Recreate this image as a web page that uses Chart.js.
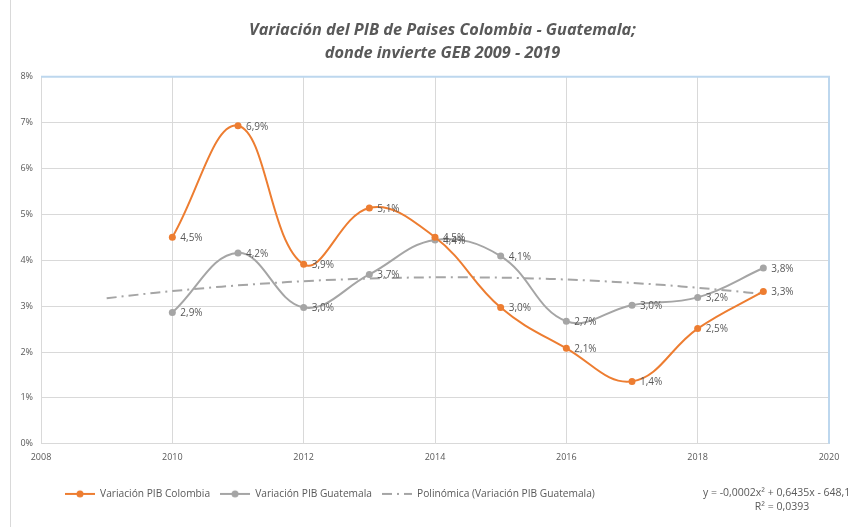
<!DOCTYPE html>
<html>
<head>
<meta charset="utf-8">
<script src="https://cdn.jsdelivr.net/npm/chart.js@4.4.0/dist/chart.umd.min.js"></script>
<style>
  html, body { margin: 0; padding: 0; background: #fff; }
  #wrap { position: relative; width: 857px; height: 527px; }
  #wrap:before { content: ""; position: absolute; left: 10px; top: 0; bottom: 0; border-left: 1px solid #d9d9d9; }
</style>
</head>
<body>
<div id="wrap"><canvas id="chart" width="857" height="527"></canvas></div>
<script>
// data
const years = [2010, 2011, 2012, 2013, 2014, 2015, 2016, 2017, 2018, 2019];
const colombia = [4.50, 6.93, 3.91, 5.14, 4.50, 2.97, 2.08, 1.36, 2.51, 3.32];
const guatemala = [2.86, 4.16, 2.97, 3.69, 4.44, 4.09, 2.67, 3.02, 3.19, 3.83];
const xRange = [2008, 2020];
const yRange = [0, 8];
const trendRange = [2009, 2019];

const titleLines = ["Variación del PIB de Paises Colombia - Guatemala;", "donde invierte GEB 2009 - 2019"];
const seriesNames = ["Variación PIB Colombia", "Variación PIB Guatemala", "Polinómica (Variación PIB Guatemala)"];
const trendText = ["y = -0,0002x² + 0,6435x - 648,1", "R² = 0,0393"];

const ORANGE = "#ED7D31";
const GRAY = "#A5A5A5";
const TEXT = "#595959";
const FONT = "'Open Sans', 'Noto Sans', sans-serif";

// least squares quadratic trendline of Guatemala (like Excel's polinómica)
function quadFit(xs, ys) {
  const x0 = 2014;
  let s = [0, 0, 0, 0, 0], t = [0, 0, 0];
  xs.forEach((x, i) => {
    const u = x - x0;
    for (let k = 0; k < 5; k++) s[k] += Math.pow(u, k);
    for (let k = 0; k < 3; k++) t[k] += ys[i] * Math.pow(u, k);
  });
  const M = [[s[0], s[1], s[2], t[0]], [s[1], s[2], s[3], t[1]], [s[2], s[3], s[4], t[2]]];
  for (let i = 0; i < 3; i++) {
    for (let j = i + 1; j < 3; j++) {
      const f = M[j][i] / M[i][i];
      for (let k = i; k < 4; k++) M[j][k] -= f * M[i][k];
    }
  }
  const c = [0, 0, 0];
  for (let i = 2; i >= 0; i--) {
    let v = M[i][3];
    for (let k = i + 1; k < 3; k++) v -= M[i][k] * c[k];
    c[i] = v / M[i][i];
  }
  return x => c[0] + c[1] * (x - x0) + c[2] * (x - x0) * (x - x0);
}

const trend = quadFit(years, guatemala);
const trendPts = [];
for (let x = trendRange[0]; x <= trendRange[1] + 1e-9; x += 0.25) trendPts.push({ x: x, y: trend(x) });

const toPts = arr => arr.map((v, i) => ({ x: years[i], y: v }));
const pctLabel = v => v.toFixed(1).replace(".", ",") + "%";

// little legend symbols
function legendIcon(color, dash, dot) {
  const c = document.createElement("canvas");
  c.width = 30; c.height = 10;
  const g = c.getContext("2d");
  g.strokeStyle = color; g.lineWidth = 2;
  if (dash) g.setLineDash(dash);
  g.beginPath(); g.moveTo(0, 5); g.lineTo(30, 5); g.stroke();
  if (dot) {
    g.fillStyle = color;
    g.beginPath(); g.arc(15, 5, 3.5, 0, Math.PI * 2); g.fill();
  }
  return c;
}
const icons = [legendIcon(ORANGE, null, true), legendIcon(GRAY, null, true), legendIcon(GRAY, [10, 5, 2, 5], false)];

// value labels to the right of points
const pointLabels = {
  id: "pointLabels",
  afterDatasetsDraw(chart) {
    const ctx = chart.ctx;
    ctx.save();
    ctx.font = "10px " + FONT;
    ctx.fillStyle = TEXT;
    ctx.textBaseline = "middle";
    chart.data.datasets.forEach((ds, i) => {
      if (!ds.showLabels) return;
      chart.getDatasetMeta(i).data.forEach((el, j) => {
        ctx.fillText(pctLabel(ds.data[j].y), el.x + 8, el.y + 1);
      });
    });
    ctx.restore();
  }
};

// blue plot-area border on top and right + trend equation; nudge title/legend
const extras = {
  id: "extras",
  afterLayout(chart) {
    chart.titleBlock.left += 23; chart.titleBlock.right += 23;
    chart.legend.left += 14; chart.legend.right += 14;
  },
  beforeDatasetsDraw(chart) {
    const a = chart.chartArea, ctx = chart.ctx;
    ctx.save();
    ctx.strokeStyle = "#BDD7EE";
    ctx.lineWidth = 2;
    ctx.beginPath();
    ctx.moveTo(a.left, a.top);
    ctx.lineTo(a.right, a.top);
    ctx.lineTo(a.right, a.bottom);
    ctx.stroke();
    ctx.restore();
  },
  afterDraw(chart) {
    const ctx = chart.ctx;
    ctx.save();
    ctx.font = "10.5px " + FONT;
    ctx.fillStyle = TEXT;
    ctx.textBaseline = "middle";
    ctx.textAlign = "left";
    ctx.fillText(trendText[0], 703, 493);
    ctx.textAlign = "center";
    ctx.fillText(trendText[1], 782, 507);
    ctx.restore();
  }
};

new Chart(document.getElementById("chart"), {
  type: "line",
  data: {
    datasets: [
      {
        label: seriesNames[0], data: toPts(colombia), showLabels: true,
        borderColor: ORANGE, backgroundColor: ORANGE, borderWidth: 2,
        pointRadius: 3.5, pointBackgroundColor: ORANGE, pointBorderWidth: 0,
        tension: 0.4
      },
      {
        label: seriesNames[1], data: toPts(guatemala), showLabels: true,
        borderColor: GRAY, backgroundColor: GRAY, borderWidth: 2,
        pointRadius: 3.5, pointBackgroundColor: GRAY, pointBorderWidth: 0,
        tension: 0.4
      },
      {
        label: seriesNames[2], data: trendPts,
        borderColor: GRAY, borderWidth: 2, borderDash: [10, 5, 2, 5],
        pointRadius: 0, tension: 0
      }
    ]
  },
  options: {
    responsive: false,
    animation: false,
    layout: { padding: { left: 10, right: 28, top: 8, bottom: 18 } },
    scales: {
      x: {
        type: "linear", min: xRange[0], max: xRange[1],
        ticks: { stepSize: 2, color: TEXT, font: { family: FONT, size: 9 }, padding: 8, callback: v => String(v) },
        grid: { color: "#d9d9d9", drawTicks: false },
        border: { color: "#d9d9d9" },
        afterFit: s => { s.height = 35; }
      },
      y: {
        min: yRange[0], max: yRange[1],
        ticks: { stepSize: 1, color: TEXT, font: { family: FONT, size: 9 }, padding: 8, callback: v => v + "%" },
        grid: { color: "#d9d9d9", drawTicks: false },
        border: { color: "#d9d9d9" },
        afterFit: s => { s.width = 31; }
      }
    },
    plugins: {
      title: {
        display: true, text: titleLines, color: TEXT,
        font: { family: FONT, size: 16.3, style: "italic", weight: "bold", lineHeight: 1.4 },
        padding: { top: 11, bottom: 12 }
      },
      legend: {
        position: "bottom", align: "start", fullSize: false,
        labels: {
          usePointStyle: true, pointStyleWidth: 30, padding: 10,
          color: TEXT, font: { family: FONT, size: 10.2 },
          generateLabels: chart => Chart.defaults.plugins.legend.labels.generateLabels(chart)
            .map((l, i) => Object.assign(l, { pointStyle: icons[i] }))
        }
      },
      tooltip: { enabled: false }
    }
  },
  plugins: [pointLabels, extras]
});
</script>
</body>
</html>
